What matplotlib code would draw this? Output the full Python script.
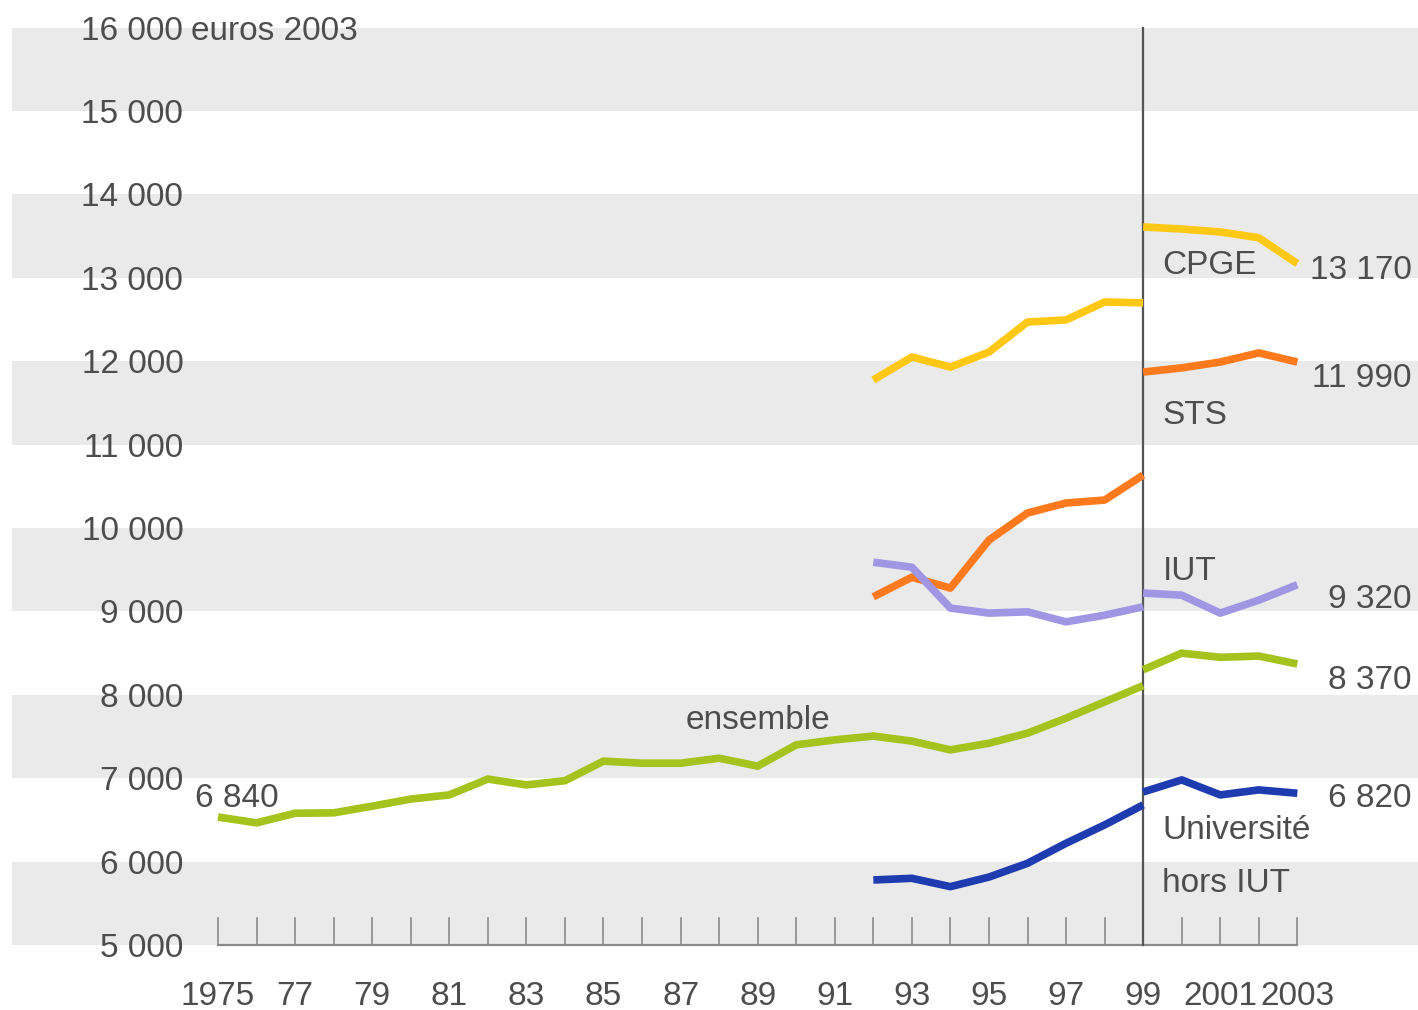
"""Dépense moyenne par étudiant, en euros 2003 (1975-2003)."""
import matplotlib
matplotlib.use("Agg")
import matplotlib.pyplot as plt

plt.rcParams["font.family"] = ["Liberation Sans Narrow", "Liberation Sans", "DejaVu Sans"]

# séries avant la rupture (jusqu'en 1999) et après (1999-2003)
years_ens_a = list(range(1975, 2000))
ensemble_a = [6535, 6465, 6580, 6585, 6665, 6750, 6800, 6990, 6920, 6970,
              7205, 7180, 7180, 7240, 7145, 7400, 7460, 7505, 7445, 7340,
              7420, 7540, 7720, 7915, 8110]
years_a = list(range(1992, 2000))
cpge_a = [11775, 12050, 11930, 12110, 12470, 12495, 12710, 12700]
sts_a = [9175, 9410, 9280, 9855, 10180, 10300, 10335, 10635]
iut_a = [9590, 9530, 9040, 8980, 8995, 8875, 8955, 9055]
univ_a = [5780, 5800, 5700, 5815, 5980, 6220, 6440, 6680]

years_b = list(range(1999, 2004))
cpge_b = [13610, 13585, 13550, 13480, 13170]
sts_b = [11870, 11920, 11990, 12100, 11990]
iut_b = [9220, 9195, 8980, 9135, 9320]
ensemble_b = [8300, 8500, 8450, 8465, 8370]
univ_b = [6835, 6980, 6800, 6860, 6820]

y_ticks = list(range(5000, 16001, 1000))
x_labels = {1975: "1975", 1977: "77", 1979: "79", 1981: "81", 1983: "83",
            1985: "85", 1987: "87", 1989: "89", 1991: "91", 1993: "93",
            1995: "95", 1997: "97", 1999: "99", 2001: "2001", 2003: "2003"}

C_CPGE = "#ffc814"
C_STS = "#ff7a1c"
C_IUT = "#a096e4"
C_ENS = "#a6c21c"
C_UNIV = "#1e3cb0"
TXT = "#4d4d4d"

fig = plt.figure(figsize=(14.18, 10.10), dpi=100)
ax = fig.add_axes([0, 0, 1, 1])
ax.set_xlim(1969.345, 2006.13)
ax.set_ylim(4221, 16331)
ax.axis("off")

# bandes grises alternées
for lo in range(5000, 16000, 2000):
    ax.fill_between([1969.66, 2006.2], lo, lo + 1000, color="#eaeaea", lw=0, zorder=0)

# axe des x et graduations
ax.plot([1975, 2003], [5000, 5000], color="#8a8a8a", lw=1.6, zorder=2)
for yr in range(1975, 2004):
    ax.plot([yr, yr], [5000, 5320], color="#8a8a8a", lw=1.2, zorder=2)
for yr, lab in x_labels.items():
    ax.text(yr, 4420, lab, ha="center", va="center_baseline", fontsize=24, color=TXT)

# ligne de rupture 1999
ax.plot([1999, 1999], [5000, 16000], color="#555555", lw=1.6, zorder=3)

# graduations y
for v in y_ticks:
    lab = f"{v // 1000} 000"
    ax.text(1974.1, v, lab, ha="right", va="center_baseline", fontsize=24, color=TXT, zorder=4)
ax.text(1974.3, 16000, "euros 2003", ha="left", va="center_baseline", fontsize=24, color=TXT, zorder=4)

lw = 5.5
for xs, ys, c in [
    (years_a, cpge_a, C_CPGE), (years_b, cpge_b, C_CPGE),
    (years_a, sts_a, C_STS), (years_b, sts_b, C_STS),
    (years_a, iut_a, C_IUT), (years_b, iut_b, C_IUT),
    (years_ens_a, ensemble_a, C_ENS), (years_b, ensemble_b, C_ENS),
    (years_a, univ_a, C_UNIV), (years_b, univ_b, C_UNIV),
]:
    ax.plot(xs, ys, color=c, lw=lw, solid_joinstyle="round", solid_capstyle="butt", zorder=5)

# étiquettes
fs = 24
kw = dict(va="center_baseline", fontsize=fs, color=TXT, zorder=6)
ax.text(1974.4, 6800, "6 840", ha="left", **kw)
ax.text(1989.0, 7734, "ensemble", ha="center", **kw)
ax.text(1999.5, 13190, "CPGE", ha="left", **kw)
ax.text(1999.5, 11390, "STS", ha="left", **kw)
ax.text(1999.5, 9520, "IUT", ha="left", **kw)
ax.text(1999.5, 6415, "Université", ha="left", **kw)
ax.text(1999.5, 5780, "hors IUT", ha="left", **kw)

xr = 2005.97
for v, lab in [(13130, "13 170"), (11835, "11 990"), (9185, "9 320"),
               (8213, "8 370"), (6800, "6 820")]:
    ax.text(xr, v, lab, ha="right", **kw)

fig.savefig("out.png", dpi=100, facecolor="white")
